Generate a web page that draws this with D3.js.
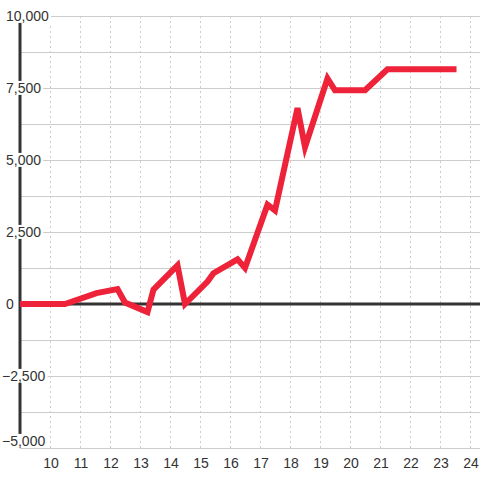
<!DOCTYPE html>
<html lang="en">
<head>
<meta charset="utf-8">
<script src="https://d3js.org/d3.v7.min.js"></script>
<style>
  body { margin: 0; background: #fff; }
  text { font-family: "Liberation Sans", Arial, sans-serif; fill: #333; }
</style>
</head>
<body>
<svg id="chart" width="480" height="480"></svg>
<script>
// data
var hours  = [9, 10.5, 11.55, 12.25, 12.5, 13.25, 13.45, 14.25, 14.5, 15.25, 15.45, 16.25, 16.5, 17.25, 17.5, 18.25, 18.5, 19.25, 19.5, 20.5, 21.25, 23.55];
var values = [0, 0, 380, 520, 50, -280, 500, 1340, 0, 780, 1070, 1550, 1250, 3450, 3250, 6800, 5450, 7830, 7420, 7420, 8150, 8150];
var xTicks = [10, 11, 12, 13, 14, 15, 16, 17, 18, 19, 20, 21, 22, 23, 24];
var yTicks = [10000, 7500, 5000, 2500, 0, -2500, -5000];
var yGrid  = [10000, 8750, 7500, 6250, 5000, 3750, 2500, 1250, 0, -1250, -2500, -3750, -5000];

var svg = d3.select("#chart"),
    plotL = 20, plotR = 480, plotT = 16, plotB = 448;

var x = d3.scaleLinear().domain([9, 24]).range([plotL, 470]);
var y = d3.scaleLinear().domain([-5000, 10000]).range([plotB, plotT]);

// horizontal grid
svg.append("g").selectAll("line")
  .data(yGrid).enter().append("line")
  .attr("x1", plotL).attr("x2", plotR)
  .attr("y1", function(d) { return y(d) + 0.5; })
  .attr("y2", function(d) { return y(d) + 0.5; })
  .attr("stroke", "#ccc").attr("stroke-width", 1);

// vertical dashed grid
svg.append("g").selectAll("line")
  .data(xTicks).enter().append("line")
  .attr("x1", function(d) { return x(d) + 0.5; })
  .attr("x2", function(d) { return x(d) + 0.5; })
  .attr("y1", plotT).attr("y2", plotB)
  .attr("stroke", "#ccc").attr("stroke-width", 1)
  .attr("stroke-dasharray", "2,3");

// y axis and zero line
svg.append("line")
  .attr("x1", plotL).attr("x2", plotL)
  .attr("y1", plotT).attr("y2", plotB)
  .attr("stroke", "#333").attr("stroke-width", 3);

svg.append("line")
  .attr("x1", plotL).attr("x2", plotR)
  .attr("y1", y(0)).attr("y2", y(0))
  .attr("stroke", "#333").attr("stroke-width", 3);

// y labels with white boxes
var fmt = d3.format(",");
var yl = svg.append("g").selectAll("g")
  .data(yTicks).enter().append("g");

yl.append("rect").attr("fill", "#fff");
yl.append("text")
  .attr("x", function(d) { return d < 0 ? 2 : 6; })
  .attr("y", function(d) { return Math.min(y(d), 441); })
  .attr("dy", "0.35em")
  .attr("font-size", "14px")
  .text(function(d) { return fmt(d); });

yl.each(function() {
  var g = d3.select(this), b = g.select("text").node().getBBox();
  g.select("rect")
    .attr("x", b.x - 1).attr("y", b.y + 1)
    .attr("width", b.width + 3).attr("height", b.height - 2);
});

// x labels
svg.append("g").selectAll("text")
  .data(xTicks).enter().append("text")
  .attr("x", function(d) { return x(d) + 1; })
  .attr("y", 463)
  .attr("dy", "0.35em")
  .attr("text-anchor", "middle")
  .attr("font-size", "14px")
  .text(function(d) { return d; });

// the line
var line = d3.line()
  .x(function(d, i) { return x(hours[i]); })
  .y(function(d) { return y(d); });

svg.append("path")
  .datum(values)
  .attr("d", line)
  .attr("fill", "none")
  .attr("stroke", "#ee2238")
  .attr("stroke-width", 6)
  .attr("stroke-linejoin", "miter")
  .attr("stroke-linecap", "butt");
</script>
</body>
</html>
